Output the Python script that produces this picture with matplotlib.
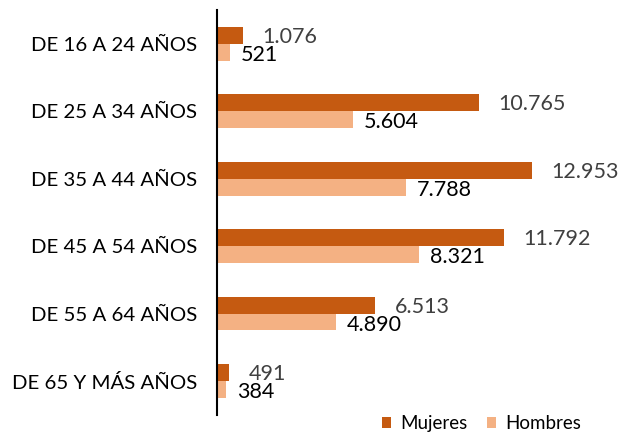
import matplotlib.pyplot as plt
import numpy as np

plt.rcParams['font.family'] = ['Lato', 'DejaVu Sans']

# Datos
categorias = ['DE 16 A 24 AÑOS', 'DE 25 A 34 AÑOS', 'DE 35 A 44 AÑOS',
              'DE 45 A 54 AÑOS', 'DE 55 A 64 AÑOS', 'DE 65 Y MÁS AÑOS']
mujeres = [1076, 10765, 12953, 11792, 6513, 491]
hombres = [521, 5604, 7788, 8321, 4890, 384]

def fmt(v):
    return f'{v:,}'.replace(',', '.')

fig = plt.figure(figsize=(6.19, 4.33), dpi=100)
ax = fig.add_axes([0.3506, 0.042, 0.6494, 0.935])

y = np.arange(len(categorias))
h = 0.25
ax.barh(y - h / 2, mujeres, height=h, color='#C55A11', label='Mujeres')
ax.barh(y + h / 2, hombres, height=h, color='#F4B183', label='Hombres')

for yi, m, hm in zip(y, mujeres, hombres):
    ax.text(m + 800, yi - h / 2 + 0.02, fmt(m), va='center', ha='left',
            fontsize=15.5, color='#404040')
    ax.text(hm + 450, yi + h / 2 + 0.04, fmt(hm), va='center', ha='left',
            fontsize=15.5, color='black')

ax.set_xlim(0, 16530)
ax.set_ylim(5.5, -0.5)
ax.set_yticks(y)
ax.set_yticklabels(categorias, fontsize=14.7)
ax.tick_params(axis='y', length=0, pad=14.5)
ax.set_xticks([])
for s in ['top', 'right', 'bottom']:
    ax.spines[s].set_visible(False)
ax.spines['left'].set_linewidth(1.5)

fig.legend(loc='center', bbox_to_anchor=(0.778, 0.022), ncol=2, frameon=False,
           fontsize=13.5, handlelength=0.5, handleheight=0.5, columnspacing=1.0,
           handletextpad=0.5)

plt.savefig('out.png', dpi=100)
